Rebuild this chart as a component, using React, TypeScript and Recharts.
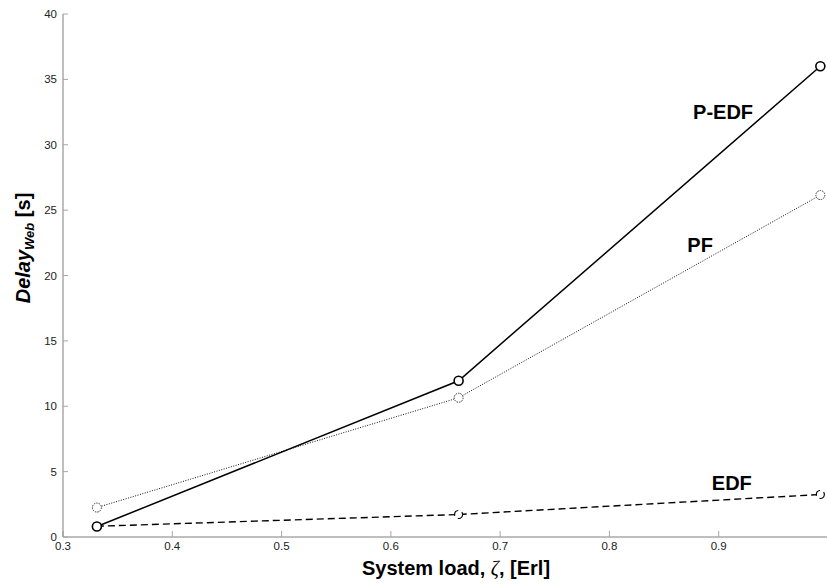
import React from 'react';
import { LineChart, Line, XAxis, YAxis, ReferenceDot } from 'recharts';

// system load values (Erl)
const loads = [0.331, 0.662, 0.993];
const pedfDelay = [0.8, 11.95, 36.0];
const pfDelay = [2.25, 10.65, 26.15];
const edfDelay = [0.82, 1.72, 3.25];

const xTicks = [0.3, 0.4, 0.5, 0.6, 0.7, 0.8, 0.9, 1.0];
const yTicks = [0, 5, 10, 15, 20, 25, 30, 35, 40];

// where the series names sit, in data units
const seriesLabels = [
  { name: 'P-EDF', x: 0.904, y: 32.5 },
  { name: 'PF', x: 0.883, y: 22.3 },
  { name: 'EDF', x: 0.912, y: 4.13 },
];

const FONT = '"Liberation Sans", Arial, sans-serif';
const AXIS_GREY = '#7f7f7f';
const TICK_GREY = '#a6a6a6';

const data = loads.map((x, i) => ({ x, pedf: pedfDelay[i], pf: pfDelay[i], edf: edfDelay[i] }));

const tickStyle = { fontSize: 11.5, fontFamily: FONT, fill: '#222' };

// the "1" label sits past the right edge of the window in the original
const xTickText = (v: number) => (v >= 1 ? '' : String(Math.round(v * 10) / 10));

const SeriesName = (props: any) => {
  const { viewBox, value } = props;
  const cx = viewBox.x + (viewBox.width || 0) / 2;
  const cy = viewBox.y + (viewBox.height || 0) / 2;
  return (
    <text x={cx} y={cy} textAnchor="middle" dominantBaseline="central"
      style={{ fontFamily: FONT, fontWeight: 'bold', fontSize: 20, fill: '#000' }}>
      {value}
    </text>
  );
};

export default function App() {
  return (
    <div style={{ position: 'absolute', left: 0, top: 0, width: 827, height: 588, overflow: 'hidden', background: '#fff' }}>
      <LineChart width={828} height={588} data={data} margin={{ top: 14, right: 0, bottom: 0, left: 0 }}>
        <XAxis xAxisId="bottom" dataKey="x" type="number" domain={[0.3, 1.0]} ticks={xTicks}
          allowDataOverflow height={51} tickSize={-6} tickMargin={11}
          stroke={AXIS_GREY} tickLine={{ stroke: TICK_GREY }} tick={tickStyle}
          tickFormatter={xTickText} />
        <XAxis xAxisId="top" orientation="top" type="number" domain={[0.3, 1.0]} ticks={xTicks}
          allowDataOverflow height={0} tickSize={-6} stroke={AXIS_GREY}
          tickLine={{ stroke: TICK_GREY }} tick={tickStyle} tickFormatter={() => ''} />
        <YAxis yAxisId="left" type="number" domain={[0, 40]} ticks={yTicks} width={63}
          tickSize={-5} tickMargin={11} stroke={AXIS_GREY} tickLine={{ stroke: TICK_GREY }} tick={tickStyle} />
        <YAxis yAxisId="right" orientation="right" type="number" domain={[0, 40]} ticks={yTicks} width={0}
          tickSize={-5} stroke={AXIS_GREY} tickLine={{ stroke: TICK_GREY }} tick={tickStyle} tickFormatter={() => ''} />

        <Line xAxisId="bottom" yAxisId="left" type="linear" dataKey="pf" stroke="#111" strokeWidth={1}
          strokeDasharray="1 1.5" isAnimationActive={false}
          dot={{ r: 4.5, stroke: '#333', strokeWidth: 1, strokeDasharray: '1.5 1', fill: '#fff' }} />
        <Line xAxisId="bottom" yAxisId="left" type="linear" dataKey="edf" stroke="#000" strokeWidth={1.4}
          strokeDasharray="7 4" isAnimationActive={false}
          dot={{ r: 4, stroke: '#000', strokeWidth: 1.2, fill: '#fff' }} />
        <Line xAxisId="bottom" yAxisId="left" type="linear" dataKey="pedf" stroke="#000" strokeWidth={1.5}
          isAnimationActive={false}
          dot={{ r: 4.5, stroke: '#000', strokeWidth: 1.6, fill: '#fff' }} />

        {seriesLabels.map(s => (
          <ReferenceDot key={s.name} xAxisId="bottom" yAxisId="left" x={s.x} y={s.y} r={0}
            stroke="none" fill="none" label={<SeriesName value={s.name} />} />
        ))}
      </LineChart>

      <div style={{
        position: 'absolute', left: 23, top: 248, transform: 'translate(-50%, -50%) rotate(-90deg)',
        whiteSpace: 'nowrap', fontFamily: FONT, fontWeight: 'bold', fontSize: 20, color: '#000', lineHeight: 1,
      }}>
        <i>Delay</i><sub style={{ fontSize: 13, fontStyle: 'italic', verticalAlign: 'baseline', position: 'relative', top: 4 }}>Web</sub> [s]
      </div>

      <div style={{
        position: 'absolute', left: 456, top: 568, transform: 'translate(-50%, -50%)',
        whiteSpace: 'nowrap', fontFamily: FONT, fontWeight: 'bold', fontSize: 20, color: '#000', lineHeight: 1,
      }}>
        System load, <span style={{ fontFamily: '"Liberation Serif", serif', fontStyle: 'italic', fontWeight: 'normal' }}>ζ</span>, [Erl]
      </div>
    </div>
  );
}
